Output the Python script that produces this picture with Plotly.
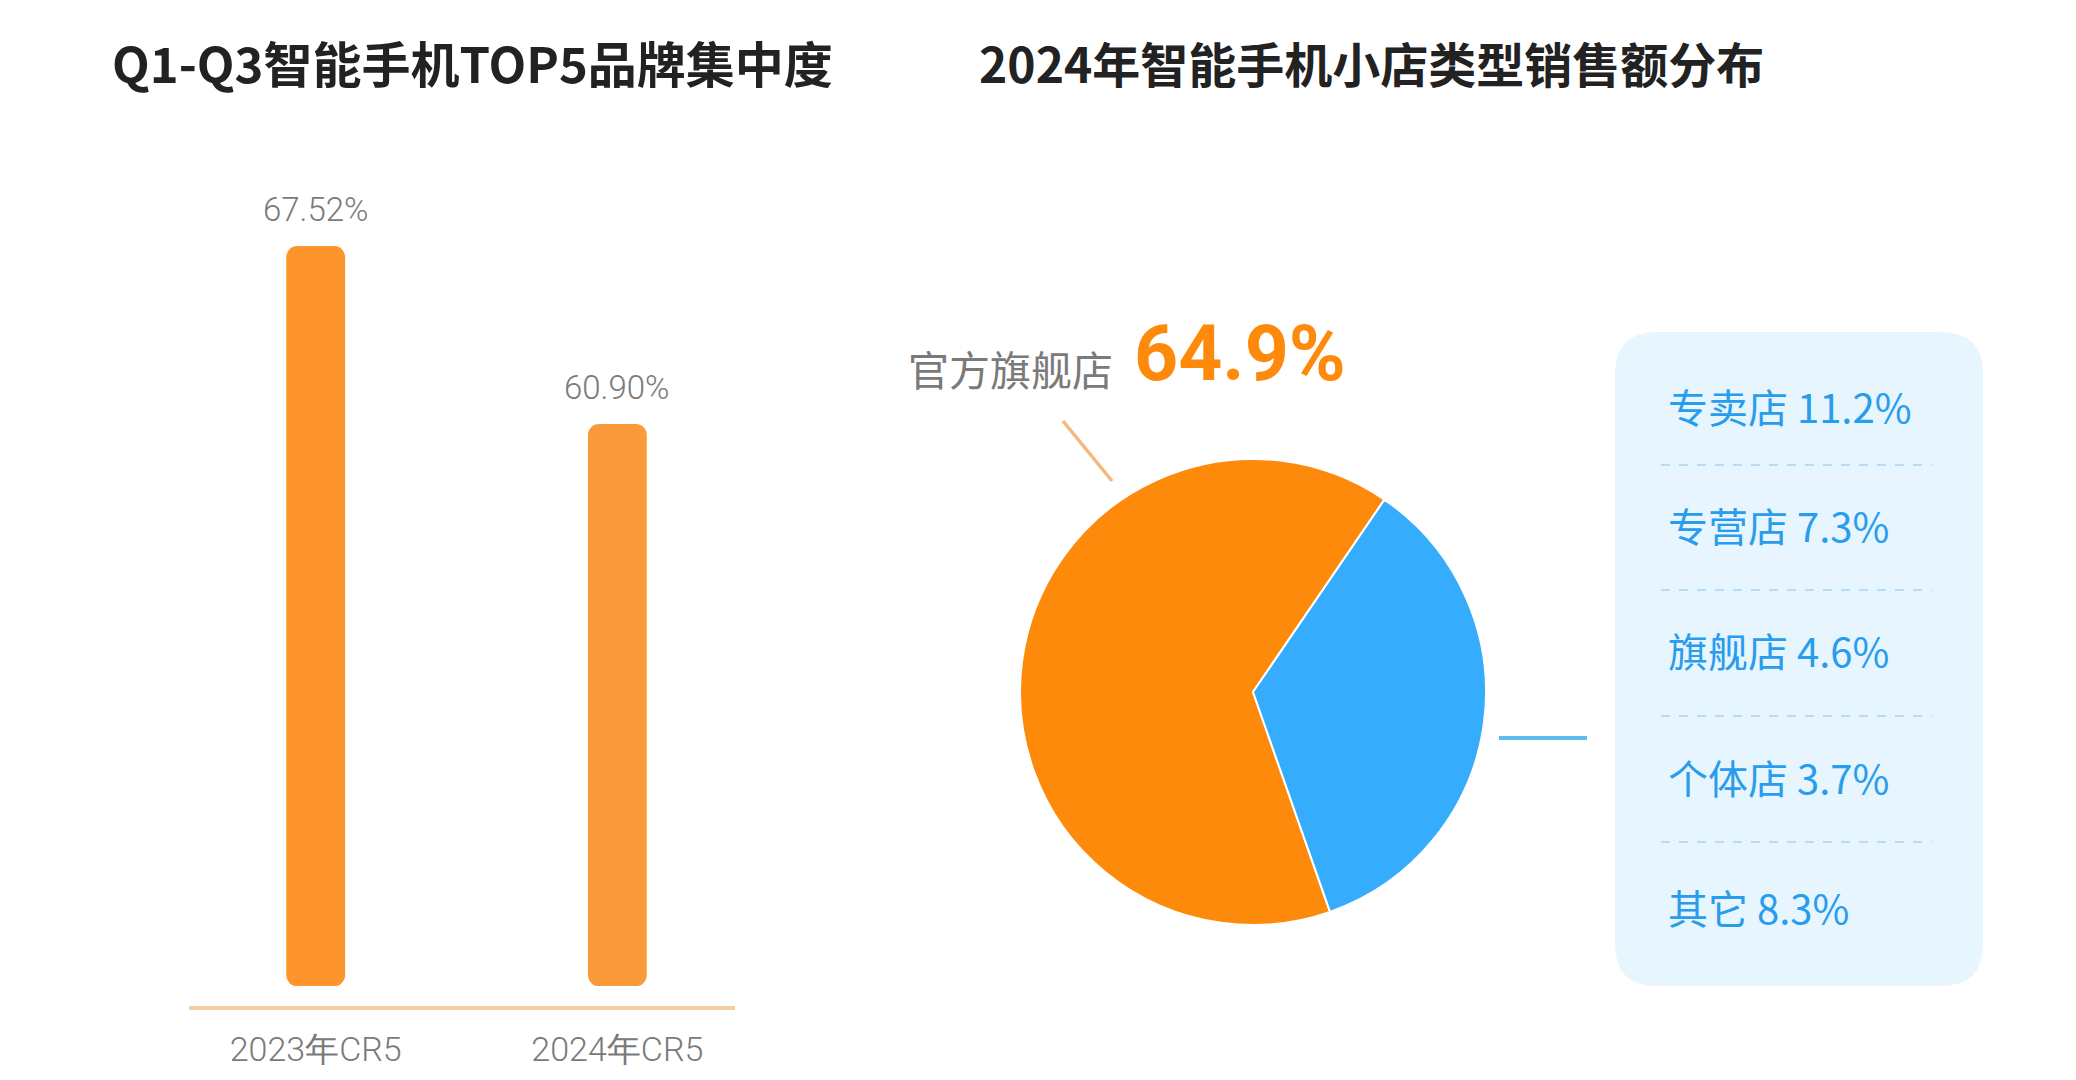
import plotly.graph_objects as go

# ---------------- data ----------------
bar_categories = ["2023年CR5", "2024年CR5"]
bar_values = [67.52, 60.90]

flagship_label = "官方旗舰店"
flagship_share = 64.9
other_labels = ["专卖店", "专营店", "旗舰店", "个体店", "其它"]
other_shares = [11.2, 7.3, 4.6, 3.7, 8.3]

title_left = "Q1-Q3智能手机TOP5品牌集中度"
title_right = "2024年智能手机小店类型销售额分布"

# ---------------- helpers ----------------
W, H = 2076, 1080
def X(p):
    return p / W
def Y(p):
    return 1 - p / H

BAR_BASE = 40
ORANGE = "#fe8a0b"
BLUE = "#35adfc"
GRAY = "#7a7a7a"

fig = go.Figure()

fig.add_trace(go.Bar(
    x=bar_categories,
    y=[v - BAR_BASE for v in bar_values],
    base=BAR_BASE,
    width=0.195,
    marker=dict(color=["#fe942c", "#fb9a3a"], line=dict(width=0)),
    hoverinfo="skip",
    xaxis="x", yaxis="y",
    showlegend=False,
))

other_total = round(sum(other_shares), 1)
fig.add_trace(go.Pie(
    labels=[flagship_label, "其他"],
    values=[flagship_share, other_total],
    sort=False,
    direction="clockwise",
    rotation=160.7,
    marker=dict(colors=[ORANGE, BLUE], line=dict(color="white", width=2)),
    textinfo="none",
    hoverinfo="skip",
    showlegend=False,
    domain=dict(x=[X(1253 - 233), X(1253 + 233)], y=[Y(692 + 233), Y(692 - 233)]),
))

annotations = []
# titles
for txt, x0, sz in [(title_left, 110, 49), (title_right, 977, 48)]:
    annotations.append(dict(
        text=txt, xref="paper", yref="paper", x=X(x0), y=Y(62),
        xanchor="left", yanchor="middle", showarrow=False,
        font=dict(family="Noto Sans CJK SC", size=sz, color="#222222", weight=700),
    ))

# bar value labels
for c, v in zip(bar_categories, bar_values):
    annotations.append(dict(
        text=f"{v:.2f}%", xref="x", yref="y", x=c, y=v,
        xanchor="center", yanchor="bottom", yshift=15, showarrow=False,
        font=dict(family="Roboto", size=33, color=GRAY, weight=300),
    ))

# pie big label
annotations.append(dict(
    text=flagship_label, xref="paper", yref="paper", x=X(906), y=Y(368),
    xanchor="left", yanchor="middle", showarrow=False,
    font=dict(family="Noto Sans CJK SC", size=41, color=GRAY),
))
annotations.append(dict(
    text=f"{flagship_share}%", xref="paper", yref="paper", x=X(1132), y=Y(354),
    xanchor="left", yanchor="middle", showarrow=False,
    font=dict(family="Roboto", size=77, color=ORANGE, weight=700),
))

# blue list
row_y = [406, 525, 650, 777, 907]
for i, (lab, v) in enumerate(zip(other_labels, other_shares)):
    annotations.append(dict(
        text=f"{lab} {v}%", xref="paper", yref="paper", x=X(1666), y=Y(row_y[i]),
        xanchor="left", yanchor="middle", showarrow=False,
        font=dict(family="Noto Sans CJK SC", size=40, color="#2a9cec"),
    ))

shapes = []
# rounded panel
def rrect(x0, y0, x1, y1, r):
    return (
        f"M {X(x0 + r)},{Y(y0)} L {X(x1 - r)},{Y(y0)} Q {X(x1)},{Y(y0)} {X(x1)},{Y(y0 + r)} "
        f"L {X(x1)},{Y(y1 - r)} Q {X(x1)},{Y(y1)} {X(x1 - r)},{Y(y1)} "
        f"L {X(x0 + r)},{Y(y1)} Q {X(x0)},{Y(y1)} {X(x0)},{Y(y1 - r)} "
        f"L {X(x0)},{Y(y0 + r)} Q {X(x0)},{Y(y0)} {X(x0 + r)},{Y(y0)} Z"
    )
shapes.append(dict(type="path", xref="paper", yref="paper", path=rrect(1615, 332, 1983, 986, 42),
                   fillcolor="#e6f5fe", line=dict(width=0), layer="below"))
# dashed separators
for yy in [465, 590, 716, 842]:
    shapes.append(dict(type="line", xref="paper", yref="paper", x0=X(1661), x1=X(1932), y0=Y(yy), y1=Y(yy),
                       line=dict(color="#b5ddf6", width=2, dash="dash")))
# leader lines
shapes.append(dict(type="line", xref="paper", yref="paper", x0=X(1063), y0=Y(421), x1=X(1112), y1=Y(481),
                   line=dict(color="#f8b77a", width=3.5)))
shapes.append(dict(type="line", xref="paper", yref="paper", x0=X(1499), y0=Y(738), x1=X(1587), y1=Y(738),
                   line=dict(color="#5bbcf2", width=4)))

fig.update_layout(
    width=W, height=H,
    margin=dict(l=0, r=0, t=0, b=0),
    paper_bgcolor="white", plot_bgcolor="rgba(0,0,0,0)",
    barcornerradius=11,
    xaxis=dict(domain=[X(189), X(735)], range=[-0.42, 1.39], type="category",
               showgrid=False, zeroline=False, showline=True, linecolor="#f9cda3", linewidth=4,
               ticks="", ticklabelstandoff=10,
               tickfont=dict(family="Roboto", size=34, color=GRAY, weight=300), fixedrange=True),
    yaxis=dict(domain=[Y(1006), Y(130)], range=[39.26, 71.83], visible=False, fixedrange=True),
    annotations=annotations,
    shapes=shapes,
)

fig.write_html("out.html")
